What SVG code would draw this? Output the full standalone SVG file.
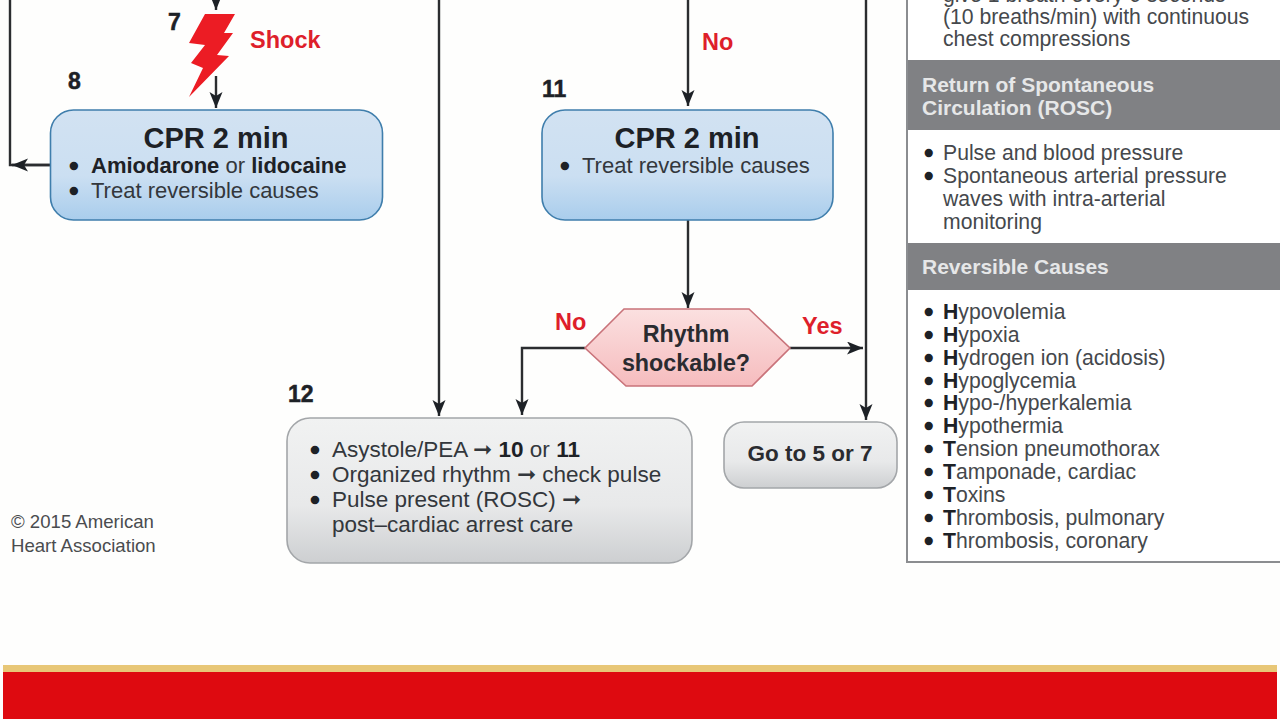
<svg xmlns="http://www.w3.org/2000/svg" width="1280" height="720" viewBox="0 0 1280 720">
<style>
text{font-family:"Liberation Sans",Arial,sans-serif;fill:#33373c}
.t{font-size:22px}
.u{font-size:22.500px}
.p{font-size:21.200px;fill:#45484c}
.b{font-weight:bold;fill:#1d2126}
.o{fill:#1d2126;stroke:#1d2126;stroke-width:2.400px}
.n{font-size:23px;font-weight:bold;fill:#1d2126;stroke:#1d2126;stroke-width:.5px}
.r{font-size:23.500px;font-weight:bold;fill:#de1f2b}
.h{font-size:21px;font-weight:bold;fill:#e6e7e8}
.d{font-size:23.300px;font-weight:bold;fill:#2a2b30;text-anchor:middle}
.m{font-size:29px;font-weight:bold;fill:#1d2126;text-anchor:middle}
.y{font-size:18.600px;fill:#4a4c4f}
.c{fill:none;stroke:#2b2d30;stroke-width:2.4}
</style>
<defs>
<linearGradient id="blue" x1="0" y1="0" x2="0" y2="1"><stop offset="0" stop-color="#d2e2f2"/><stop offset=".6" stop-color="#cbdff2"/><stop offset="1" stop-color="#a9cdec"/></linearGradient>
<linearGradient id="gray" x1="0" y1="0" x2="0" y2="1"><stop offset="0" stop-color="#f1f2f2"/><stop offset=".6" stop-color="#e8e9ea"/><stop offset="1" stop-color="#cdcfd1"/></linearGradient>
<linearGradient id="pink" x1="0" y1="0" x2="0" y2="1"><stop offset="0" stop-color="#fbe0e0"/><stop offset="1" stop-color="#f6bcbe"/></linearGradient>
<marker id="a" markerUnits="userSpaceOnUse" markerWidth="18" markerHeight="16" refX="16" refY="6.500" orient="auto"><path d="M0 0L16 6.500L0 13L4 6.500Z" fill="#1d2126"/></marker>
</defs>
<rect width="1280" height="720" fill="#fefefd"/>

<g id="connectors">
<path class="c" d="M216 0V10" marker-end="url(#a)"/>
<path class="c" d="M216 76V108" marker-end="url(#a)"/>
<path class="c" d="M10 0V165H50"/>
<path class="c" d="M50 165H12" marker-end="url(#a)"/>
<path class="c" d="M439 0V416" marker-end="url(#a)"/>
<path class="c" d="M688 0V106" marker-end="url(#a)"/>
<path class="c" d="M688 220V308" marker-end="url(#a)"/>
<path class="c" d="M585 348H522V415" marker-end="url(#a)"/>
<path class="c" d="M790 348H863" marker-end="url(#a)"/>
<path class="c" d="M866 0V420" marker-end="url(#a)"/>
</g>

<g id="shock">
<path d="M205 14H235L224 33L233 33L217 55L229 56L189 97L203 68L191 63L205 45L189 43Z" fill="#ec1c24"/>
<text x="168" y="30" class="n">7</text>
<text x="250" y="48" class="r">Shock</text>
</g>

<g id="node-8">
<text x="68" y="89" class="n">8</text>
<rect x="50.500" y="110" width="332" height="110" rx="23" fill="url(#blue)" stroke="#3f7eac" stroke-width="1.600"/>
<text x="216" y="148" class="m">CPR 2 min</text>
<text y="173" class="t"><tspan x="70" class="o">•</tspan><tspan x="91" class="b">Amiodarone</tspan> or <tspan class="b">lidocaine</tspan></text>
<text y="198" class="t"><tspan x="70" class="o">•</tspan><tspan x="91">Treat reversible causes</tspan></text>
</g>

<g id="no-top"><text x="702" y="50" class="r">No</text></g>

<g id="node-11">
<text x="542" y="97" class="n">11</text>
<rect x="542" y="110" width="291" height="110" rx="23" fill="url(#blue)" stroke="#3f7eac" stroke-width="1.600"/>
<text x="687" y="148" class="m">CPR 2 min</text>
<text y="173" class="t"><tspan x="561" class="o">•</tspan><tspan x="582">Treat reversible causes</tspan></text>
</g>

<g id="decision">
<path d="M624 309H749L790 348L752 386H626L585 348Z" fill="url(#pink)" stroke="#c9737a" stroke-width="1.600"/>
<text x="686" y="342" class="d">Rhythm</text>
<text x="686" y="371" class="d">shockable?</text>
<text x="555" y="330" class="r">No</text>
<text x="802" y="334" class="r">Yes</text>
</g>

<g id="node-12">
<text x="288" y="402" class="n">12</text>
<rect x="287" y="418" width="405" height="145" rx="23" fill="url(#gray)" stroke="#a3a6a9" stroke-width="1.600"/>
<text y="457" class="u"><tspan x="311" class="o">•</tspan><tspan x="332">Asystole/PEA ➞ </tspan><tspan class="b">10</tspan> or <tspan class="b">11</tspan></text>
<text y="482" class="u"><tspan x="311" class="o">•</tspan><tspan x="332">Organized rhythm ➞ check pulse</tspan></text>
<text y="507" class="u"><tspan x="311" class="o">•</tspan><tspan x="332">Pulse present (ROSC) ➞</tspan></text>
<text x="332" y="532" class="u">post–cardiac arrest care</text>
</g>

<g id="node-goto">
<rect x="724" y="422" width="173" height="66" rx="20" fill="url(#gray)" stroke="#a3a6a9" stroke-width="1.600"/>
<text x="810" y="461" class="d" style="font-size:22.500px">Go to 5 or 7</text>
</g>

<g id="copyright">
<text x="11" y="528" class="y">© 2015 American</text>
<text x="11" y="552" class="y">Heart Association</text>
</g>

<g id="panel">
<rect x="907" y="-5" width="380" height="567" fill="#fff" stroke="#8b8d90" stroke-width="2"/>
<text x="943" y="2" class="p">give 1 breath every 6 seconds</text>
<text x="943" y="24" class="p">(10 breaths/min) with continuous</text>
<text x="943" y="46" class="p">chest compressions</text>
<rect x="908" y="60" width="372" height="70" fill="#808184"/>
<text x="922" y="92" class="h">Return of Spontaneous</text>
<text x="922" y="115" class="h">Circulation (ROSC)</text>
<text y="160" class="p"><tspan x="925" class="o">•</tspan><tspan x="943">Pulse and blood pressure</tspan></text>
<text y="183" class="p"><tspan x="925" class="o">•</tspan><tspan x="943">Spontaneous arterial pressure</tspan></text>
<text x="943" y="206" class="p">waves with intra-arterial</text>
<text x="943" y="229" class="p">monitoring</text>
<rect x="908" y="243" width="372" height="47" fill="#808184"/>
<text x="922" y="274" class="h">Reversible Causes</text>
<text y="319" class="p"><tspan x="925" class="o">•</tspan><tspan x="943" class="b">H</tspan>ypovolemia</text>
<text y="342" class="p"><tspan x="925" class="o">•</tspan><tspan x="943" class="b">H</tspan>ypoxia</text>
<text y="365" class="p"><tspan x="925" class="o">•</tspan><tspan x="943" class="b">H</tspan>ydrogen ion (acidosis)</text>
<text y="388" class="p"><tspan x="925" class="o">•</tspan><tspan x="943" class="b">H</tspan>ypoglycemia</text>
<text y="410" class="p"><tspan x="925" class="o">•</tspan><tspan x="943" class="b">H</tspan>ypo-/hyperkalemia</text>
<text y="433" class="p"><tspan x="925" class="o">•</tspan><tspan x="943" class="b">H</tspan>ypothermia</text>
<text y="456" class="p"><tspan x="925" class="o">•</tspan><tspan x="943" class="b">T</tspan>ension pneumothorax</text>
<text y="479" class="p"><tspan x="925" class="o">•</tspan><tspan x="943" class="b">T</tspan>amponade, cardiac</text>
<text y="502" class="p"><tspan x="925" class="o">•</tspan><tspan x="943" class="b">T</tspan>oxins</text>
<text y="525" class="p"><tspan x="925" class="o">•</tspan><tspan x="943" class="b">T</tspan>hrombosis, pulmonary</text>
<text y="548" class="p"><tspan x="925" class="o">•</tspan><tspan x="943" class="b">T</tspan>hrombosis, coronary</text>
</g>

<g id="footer">
<rect x="3" y="665" width="1274" height="7" fill="#e8c777"/>
<rect x="3" y="672" width="1274" height="47" fill="#de0a10"/>
</g>
</svg>
